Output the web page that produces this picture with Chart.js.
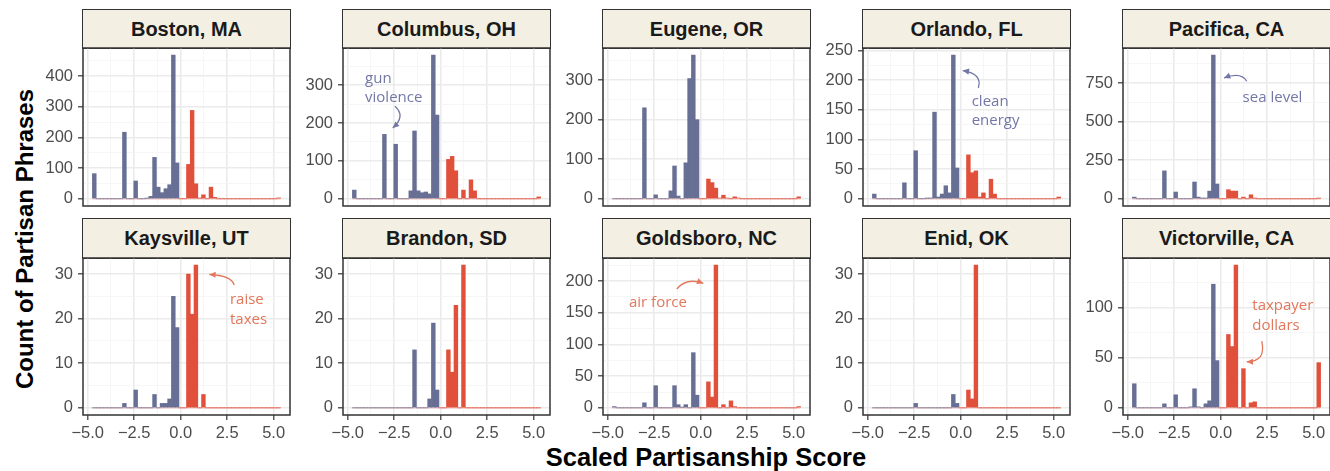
<!DOCTYPE html>
<html><head><meta charset="utf-8">
<script src="https://cdn.jsdelivr.net/npm/chart.js@4.4.0/dist/chart.umd.min.js"></script>
<style>
html,body{margin:0;padding:0;background:#fff}
body{width:1330px;height:471px;overflow:hidden;position:relative;font-family:"Liberation Sans",Arial,sans-serif}
.strip{position:absolute;box-sizing:border-box;border:1.5px solid #333;background:#f3efe3;color:#1a1a1a;font-weight:bold;font-size:20px;display:flex;align-items:center;justify-content:center;white-space:nowrap}
canvas{position:absolute}
.title{position:absolute;font-weight:bold;color:#000;white-space:nowrap;transform:translate(-50%,-50%)}
</style></head><body>
<div class="title" style="left:25px;top:239px;font-size:24px;transform:translate(-50%,-50%) rotate(-90deg)">Count of Partisan Phrases</div>
<div class="title" style="left:706px;top:457px;font-size:25.5px">Scaled Partisanship Score</div>
<script>
// ---- data ----
const binStart = -4.75, binWidth = 0.2025, nBins = 50;
const cities = ["Boston, MA","Columbus, OH","Eugene, OR","Orlando, FL","Pacifica, CA",
                "Kaysville, UT","Brandon, SD","Goldsboro, NC","Enid, OK","Victorville, CA"];
const boston = [
 82,0,0,0,0,0,0,0,217,0,
 0,58,0,0,2,8,135,38,20,33,
 46,468,117,0,0,112,288,49,2,13,
 0,38,5,0,0,0,0,0,0,0,
 0,0,0,0,0,0,0,0,0,3];
const columbus = [
 23,0,0,0,0,0,0,0,170,0,
 0,144,0,0,0,21,179,21,16,18,
 13,379,221,0,0,104,112,74,0,23,
 0,50,21,0,0,0,0,0,0,0,
 0,0,0,0,0,0,0,0,0,5];
const eugene = [
 0,0,0,0,0,0,0,0,230,0,
 0,10,0,0,0,20,83,7,0,91,
 304,363,200,0,0,50,41,27,2,9,
 2,0,5,2,0,0,0,0,0,0,
 0,0,0,0,0,0,0,0,0,5];
const orlando = [
 8,0,0,0,0,0,0,0,27,0,
 0,81,0,0,1,1,146,3,8,22,
 10,242,52,0,0,74,44,47,3,10,
 0,33,8,0,0,0,0,0,0,0,
 0,0,0,0,0,0,0,0,0,3];
const pacifica = [
 11,0,0,0,0,0,0,0,181,0,
 0,44,0,0,0,0,109,11,4,4,
 50,930,96,0,0,59,50,50,0,11,
 0,26,4,0,0,0,0,0,0,0,
 0,0,0,0,0,0,0,0,0,4];
const kaysville = [
 0,0,0,0,0,0,0,0,1,0,
 0,4,0,0,0,0,3,0,1,1,
 2,25,18,0,0,30,21,32,0,3,
 0,0,0,0,0,0,0,0,0,0,
 0,0,0,0,0,0,0,0,0,0];
const brandon = [
 0,0,0,0,0,0,0,0,0,0,
 0,0,0,0,0,0,13,0,0,0,
 2,19,4,0,0,13,8,23,0,32,
 0,0,0,0,0,0,0,0,0,0,
 0,0,0,0,0,0,0,0,0,0];
const goldsboro = [
 2,0,0,0,0,0,0,0,8,0,
 0,35,0,0,0,0,35,5,1,5,
 0,87,20,0,0,41,17,225,0,5,
 0,11,2,0,0,0,0,0,0,0,
 0,0,0,0,0,0,0,0,0,2];
const enid = [
 0,0,0,0,0,0,0,0,0,0,
 0,1,0,0,0,0,0,0,0,0,
 0,3,1,0,0,4,2,32,0,0,
 0,0,0,0,0,0,0,0,0,0,
 0,0,0,0,0,0,0,0,0,0];
const victorville = [
 24,0,0,0,0,0,0,0,4,0,
 0,13,0,0,0,1,19,1,0,4,
 7,123,47,0,0,73,61,142,0,39,
 0,5,6,0,0,0,0,0,0,0,
 0,0,0,0,0,0,0,0,0,45];
const countsList = [boston,columbus,eugene,orlando,pacifica,kaysville,brandon,goldsboro,enid,victorville];
const yStep = [100,100,100,50,250,10,10,50,10,50];
const xMajor = [-5,-2.5,0,2.5,5];
const xMinor = [-3.75,-1.25,1.25,3.75];
// annotations (data coordinates)
const annotations = {
  1:{party:'D', lines:["gun","violence"], x:-4.07, y:318, arrow:[[-2.46,244],[-2.19,217],[-2.58,187]]},
  3:{party:'D', lines:["clean","energy"], x:0.59, y:164, arrow:[[0.95,187],[0.86,206],[0.11,216]]},
  4:{party:'D', lines:["sea level"], x:1.18, y:655, arrow:[[1.40,761],[0.95,798],[0.18,783]]},
  5:{party:'R', lines:["raise","taxes"], x:2.65, y:24.2, arrow:[[2.88,27.55],[2.47,29.2],[1.54,29.9]]},
  7:{party:'R', lines:["air force"], x:-3.86, y:165.8, arrow:[[-1.29,187.4],[-0.67,198.9],[0.14,196.4]]},
  9:{party:'R', lines:["taxpayer","dollars"], x:1.70, y:101.6, arrow:[[2.21,66.5],[2.13,50.9],[1.40,45.9]]}
};

// ---- style / layout ----
const BLUE = '#676f95', RED = '#e0503b', BASE = '#eeb0ab';
const ANN = {D:'#7377a8', R:'#e3775c'};
const FONT = '"Liberation Sans", Arial, sans-serif';
const colLeft = [83,343,603,863,1123], plotW = 207;
const rowTop = [48,258], rowH = [158,157], stripTop = [10,219], stripH = [38,39];
const YAX = 70, PADT = 12, PADR = 4, PADB = 2, XAX = 40;
const span = nBins*binWidth;
const xMin = binStart - 0.05*span, xMax = binStart + nBins*binWidth + 0.05*span;

const isMajorX = v => xMajor.some(m => Math.abs(m - v) < 1e-9);
const fmtX = v => (v < 0 ? '\u2212' : '') + Math.abs(v).toFixed(1);

cities.forEach((city, i) => {
  const row = Math.floor(i/5), col = i % 5;
  const L = colLeft[col], T = rowTop[row], H = rowH[row];
  const bottomRow = row === 1;
  const counts = countsList[i];
  const step = yStep[i];
  const M = Math.max(...counts);
  const yMin = -0.05*M, yMax = 1.05*M;
  const yVals = [];
  for (let v = 0; v <= yMax + 1e-9; v += step/2) yVals.push(v);
  const isMajorY = v => Math.abs(v/step - Math.round(v/step)) < 1e-9;

  const s = document.createElement('div');
  s.className = 'strip';
  s.style.left = (L - 0.75) + 'px';
  s.style.top = (stripTop[row] - 0.75) + 'px';
  s.style.width = (plotW + 1.5) + 'px';
  s.style.height = (stripH[row] + 1.5) + 'px';
  s.textContent = city;
  document.body.appendChild(s);

  const cv = document.createElement('canvas');
  const cw = YAX + plotW + PADR, chh = PADT + H + (bottomRow ? XAX : 0) + PADB;
  cv.width = cw; cv.height = chh;
  cv.style.width = cw + 'px'; cv.style.height = chh + 'px';
  cv.style.left = (L - YAX) + 'px';
  cv.style.top = (T - PADT) + 'px';
  document.body.appendChild(cv);

  const centers = counts.map((c,k) => binStart + (k + 0.5)*binWidth);
  const ann = annotations[i];

  const panelPlugin = {
    id: 'panel' + i,
    afterDatasetsDraw(chart) {
      if (!ann) return;
      const ctx = chart.ctx, xs = chart.scales.x, ys = chart.scales.y;
      const col = ANN[ann.party];
      ctx.save();
      ctx.fillStyle = col; ctx.strokeStyle = col;
      ctx.font = '15px "Open Sans", "Noto Sans", sans-serif';
      ctx.textAlign = 'left'; ctx.textBaseline = 'middle';
      const tx = xs.getPixelForValue(ann.x), ty = ys.getPixelForValue(ann.y);
      ann.lines.forEach((ln, j) => ctx.fillText(ln, tx, ty + j*19.5));
      const P = ann.arrow.map(p => [xs.getPixelForValue(p[0]), ys.getPixelForValue(p[1])]);
      const [S, V, E] = P;
      const C = [2*V[0] - (S[0]+E[0])/2, 2*V[1] - (S[1]+E[1])/2];
      ctx.lineWidth = 1.3;
      ctx.beginPath(); ctx.moveTo(S[0], S[1]); ctx.quadraticCurveTo(C[0], C[1], E[0], E[1]); ctx.stroke();
      const ang = Math.atan2(E[1]-C[1], E[0]-C[0]);
      const len = 7, hw = 0.45;
      ctx.beginPath();
      ctx.moveTo(E[0], E[1]);
      ctx.lineTo(E[0] - len*Math.cos(ang - hw), E[1] - len*Math.sin(ang - hw));
      ctx.lineTo(E[0] - len*Math.cos(ang + hw), E[1] - len*Math.sin(ang + hw));
      ctx.closePath(); ctx.fill();
      ctx.restore();
    },
    afterDraw(chart) {
      const a = chart.chartArea, ctx = chart.ctx;
      ctx.save();
      ctx.strokeStyle = '#333'; ctx.lineWidth = 1.5;
      ctx.strokeRect(a.left, a.top, a.right - a.left, a.bottom - a.top);
      ctx.restore();
    }
  };

  new Chart(cv, {
    type: 'bar',
    data: {
      datasets: [
        {
          type: 'bar', order: 1,
          data: counts.map((c,k) => ({x: centers[k], y: c})),
          backgroundColor: centers.map(c => c < 0 ? BLUE : RED),
          borderWidth: 0, barPercentage: 1, categoryPercentage: 1
        },
        {
          type: 'line', order: 2,
          data: [{x: binStart, y: 0}, {x: binStart + nBins*binWidth, y: 0}],
          borderColor: BASE, borderWidth: 1, pointRadius: 0, fill: false
        }
      ]
    },
    options: {
      responsive: false, animation: false, devicePixelRatio: 1,
      layout: {padding: {left: 0, top: PADT, right: PADR, bottom: PADB}},
      plugins: {legend: {display: false}, tooltip: {enabled: false}},
      scales: {
        x: {
          type: 'linear', min: xMin, max: xMax, offset: false,
          afterBuildTicks: sc => { sc.ticks = xMajor.concat(xMinor).sort((a,b)=>a-b).map(v => ({value: v})); },
          afterFit: sc => { sc.height = bottomRow ? XAX : 0; sc.paddingLeft = sc.paddingRight = sc.paddingTop = sc.paddingBottom = 0; },
          border: {display: false},
          grid: {
            offset: false, drawTicks: bottomRow, tickLength: 5,
            color: c => (c.tick && isMajorX(c.tick.value)) ? '#ebebeb' : '#f4f4f4',
            lineWidth: c => (c.tick && isMajorX(c.tick.value)) ? 1.6 : 0.8,
            tickColor: c => (c.tick && isMajorX(c.tick.value)) ? '#333' : 'rgba(0,0,0,0)',
            tickWidth: 1.2
          },
          ticks: {
            display: bottomRow, autoSkip: false, maxRotation: 0, minRotation: 0, padding: 4,
            color: '#4d4d4d', font: {family: FONT, size: 16.5},
            callback: v => isMajorX(v) ? fmtX(v) : ''
          }
        },
        y: {
          type: 'linear', min: yMin, max: yMax,
          afterBuildTicks: sc => { sc.ticks = yVals.map(v => ({value: v})); },
          afterFit: sc => { sc.width = YAX; sc.paddingLeft = sc.paddingRight = sc.paddingTop = sc.paddingBottom = 0; },
          border: {display: false},
          grid: {
            drawTicks: true, tickLength: 5,
            color: c => (c.tick && isMajorY(c.tick.value)) ? '#ebebeb' : '#f4f4f4',
            lineWidth: c => (c.tick && isMajorY(c.tick.value)) ? 1.6 : 0.8,
            tickColor: c => (c.tick && isMajorY(c.tick.value)) ? '#333' : 'rgba(0,0,0,0)',
            tickWidth: 1.2
          },
          ticks: {
            autoSkip: false, padding: 5, color: '#4d4d4d', font: {family: FONT, size: 16.5},
            callback: v => isMajorY(v) ? String(Math.round(v)) : ''
          }
        }
      }
    },
    plugins: [panelPlugin]
  });
});
</script>
</body></html>
